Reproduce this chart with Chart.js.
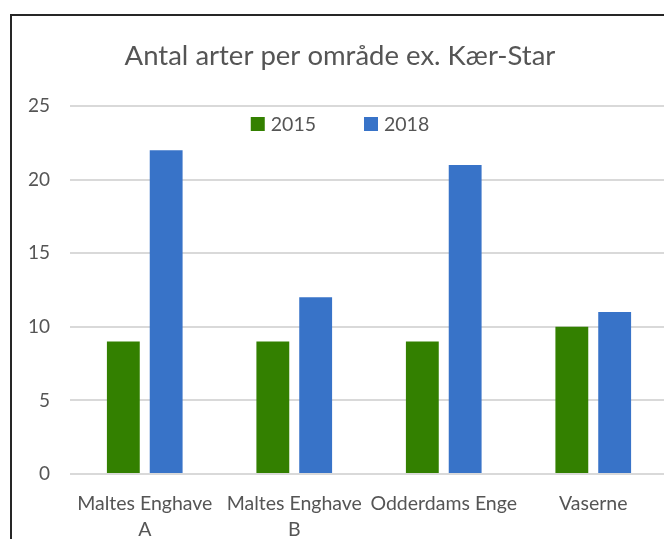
<!DOCTYPE html>
<html>
<head>
<meta charset="utf-8">
<script src="https://cdn.jsdelivr.net/npm/chart.js@4/dist/chart.umd.min.js"></script>
<style>
  body { margin: 0; background: #fff; overflow: hidden; }
  #frame { position: absolute; left: 10px; top: 14px; width: 656px; height: 560px; border: 2px solid #262626; }
  #myChart { display: block; }
</style>
</head>
<body>
<div id="frame"><canvas id="myChart" width="656" height="560"></canvas></div>
<script>
'use strict';

// data
var categories = [['Maltes Enghave', 'A'], ['Maltes Enghave', 'B'], 'Odderdams Enge', 'Vaserne'];
var values2015 = [9, 9, 9, 10];
var values2018 = [22, 12, 21, 11];
var yTicks = [0, 5, 10, 15, 20, 25];

var textColor = '#555555';
var fontName = 'Lato';

// Excel-style legend, drawn inside the plot area under the top gridline
var legendInPlot = {
    id: 'legendInPlot',
    afterDraw: function (chart) {
        var ctx = chart.ctx;
        var box = 14, gapText = 6, gapItem = 48;
        ctx.save();
        ctx.font = '19.5px ' + fontName;
        ctx.textBaseline = 'middle';
        ctx.textAlign = 'left';
        var items = chart.data.datasets.map(function (ds) {
            return { label: ds.label, color: ds.backgroundColor, w: ctx.measureText(ds.label).width };
        });
        var total = 0;
        items.forEach(function (it, i) {
            total += box + gapText + it.w + (i > 0 ? gapItem : 0);
        });
        var x = chart.width / 2 - total / 2;
        var y = 108;
        items.forEach(function (it) {
            ctx.fillStyle = it.color;
            ctx.fillRect(x, y - box / 2, box, box);
            ctx.fillStyle = textColor;
            ctx.fillText(it.label, x + box + gapText, y + 1);
            x += box + gapText + it.w + gapItem;
        });
        ctx.restore();
    }
};

var ctx = document.getElementById('myChart').getContext('2d');

var myChart = new Chart(ctx, {
    type: 'bar',
    data: {
        labels: categories,
        datasets: [
        {
            label: '2015',
            backgroundColor: '#338000',
            data: values2015
        },
        {
            label: '2018',
            backgroundColor: '#3873C8',
            data: values2018
        }]
    },
    plugins: [legendInPlot],
    options: {
        responsive: false,
        animation: false,
        layout: { padding: 0 },
        datasets: {
            bar: { categoryPercentage: 0.573, barPercentage: 0.767 }
        },
        plugins: {
            legend: { display: false },
            tooltip: { enabled: false },
            title: {
                display: true,
                text: 'Antal arter per område ex. Kær-Star',
                color: textColor,
                font: { family: fontName, size: 27.5, weight: 'normal', lineHeight: 1.2 },
                padding: { top: 24, bottom: 33 }
            }
        },
        scales: {
            x: {
                grid: { display: false, drawTicks: false },
                border: { display: false },
                ticks: {
                    color: textColor,
                    font: { family: fontName, size: 19.5, lineHeight: '26px' },
                    padding: 17,
                    maxRotation: 0,
                    autoSkip: false
                },
                afterFit: function (scale) { scale.height = 102; }
            },
            y: {
                min: 0,
                max: 25,
                afterBuildTicks: function (scale) {
                    scale.ticks = yTicks.map(function (v) { return { value: v }; });
                },
                grid: { color: '#d9d9d9', lineWidth: 2, drawTicks: false },
                border: { display: false },
                ticks: {
                    color: textColor,
                    font: { family: fontName, size: 19 },
                    padding: 20
                },
                afterFit: function (scale) { scale.width = 58; }
            }
        }
    }
});
</script>
</body>
</html>
